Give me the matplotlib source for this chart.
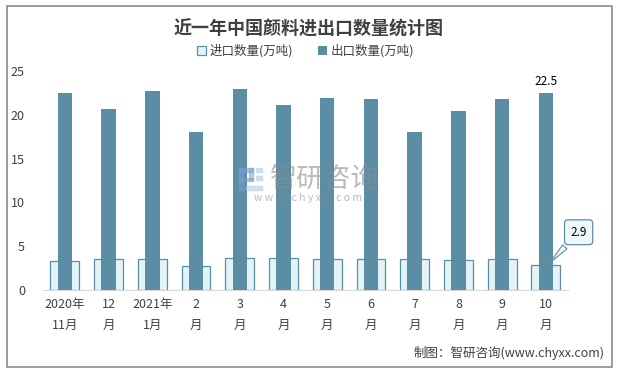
import numpy as np
import matplotlib
matplotlib.use('Agg')
import matplotlib.pyplot as plt
from matplotlib.patches import Rectangle

plt.rcParams['font.family'] = ['Noto Sans CJK SC', 'DejaVu Sans']

months = ['2020年\n11月', '12\n月', '2021年\n1月', '2\n月', '3\n月', '4\n月',
          '5\n月', '6\n月', '7\n月', '8\n月', '9\n月', '10\n月']
imports = [3.3, 3.6, 3.5, 2.8, 3.7, 3.7, 3.5, 3.5, 3.5, 3.4, 3.5, 2.9]
exports = [22.5, 20.6, 22.7, 18.0, 22.9, 21.1, 21.9, 21.8, 18.0, 20.4, 21.8, 22.5]

dark = '#5b8ea5'
light = '#e3f4f9'
txt = '#404040'

W, H = 618, 371
fig = plt.figure(figsize=(W / 100, H / 100), dpi=100)
fig.patches.append(Rectangle((0.012, 0.012), 0.978, 0.972, transform=fig.transFigure,
                             fill=False, edgecolor='#8c8c8c', linewidth=1.2))

# watermark (behind the chart)
def px(x0, y0, w, h, c):
    fig.patches.append(Rectangle((x0 / W, 1 - (y0 + h) / H), w / W, h / H,
                                 transform=fig.transFigure, color=c, alpha=0.5, zorder=0))
px(239, 168, 4, 22, '#7f9fcf')
px(239, 168, 14, 4, '#7f9fcf')
px(249, 168, 4, 12, '#7f9fcf')
px(239, 178, 14, 3, '#7f9fcf')
px(256, 168, 6, 4, '#a9c8e8')
px(256, 176, 6, 4, '#a9c8e8')
px(246, 186, 16, 4, '#a9c8e8')
fig.text(324 / W, 1 - 179 / H, '智研咨询', ha='center', va='center', fontsize=19.5,
         color='#8c8c8c', alpha=0.6, zorder=0)
fig.text(308 / W, 1 - 198 / H, 'w w w . c h y x x . c o m', ha='center', va='center',
         fontsize=7.5, color='#8c8c8c', alpha=0.6, zorder=0)

ax = fig.add_axes([0.0696, 0.218, 0.849, 0.591])
ax.patch.set_alpha(0)
x = np.arange(len(months))
ax.bar(x, imports, width=0.66, color=light, edgecolor=dark, linewidth=0.9,
       label='进口数量(万吨)', zorder=2)
ax.bar(x, exports, width=0.33, color=dark, label='出口数量(万吨)', zorder=3)

ax.set_xlim(-0.5, len(months) - 0.5)
ax.set_ylim(0, 25)
ax.set_yticks([0, 5, 10, 15, 20, 25])
ax.set_xticks(x)
ax.set_xticklabels(months, linespacing=1.7)
ax.tick_params(axis='both', length=0, labelsize=9, colors=txt)
ax.tick_params(axis='y', pad=13)
ax.tick_params(axis='x', pad=6)
for s in ['top', 'right', 'left']:
    ax.spines[s].set_visible(False)
ax.spines['bottom'].set_color('#d9d9d9')

# value labels on the last month
ax.text(x[-1], exports[-1] + 0.6, '22.5', ha='center', va='bottom', fontsize=8.5, color='#000000')
ax.annotate('2.9', xy=(x[-1] + 0.05, imports[-1]), xytext=(x[-1] + 0.75, 6.6),
            ha='center', va='center', fontsize=8.5, color='#000000',
            bbox=dict(boxstyle='round,pad=0.5,rounding_size=0.3', fc='#eef8f9', ec=dark, lw=0.9),
            arrowprops=dict(arrowstyle='wedge,tail_width=0.5', fc='#eef8f9', ec=dark, lw=0.8),
            annotation_clip=False, zorder=5)

fig.text(0.5, 0.922, '近一年中国颜料进出口数量统计图', ha='center', va='center',
         fontsize=13, fontweight='bold', color=txt)
ax.legend(loc='center', bbox_to_anchor=(0.5, 1.09), ncol=2, frameon=False, fontsize=9,
          handlelength=0.7, handleheight=0.7, handletextpad=0.3, columnspacing=2.0,
          labelcolor=txt)

fig.text(0.978, 0.048, '制图：智研咨询(www.chyxx.com)', ha='right', va='center',
         fontsize=9, color=txt)

fig.savefig('out.png', dpi=100)
